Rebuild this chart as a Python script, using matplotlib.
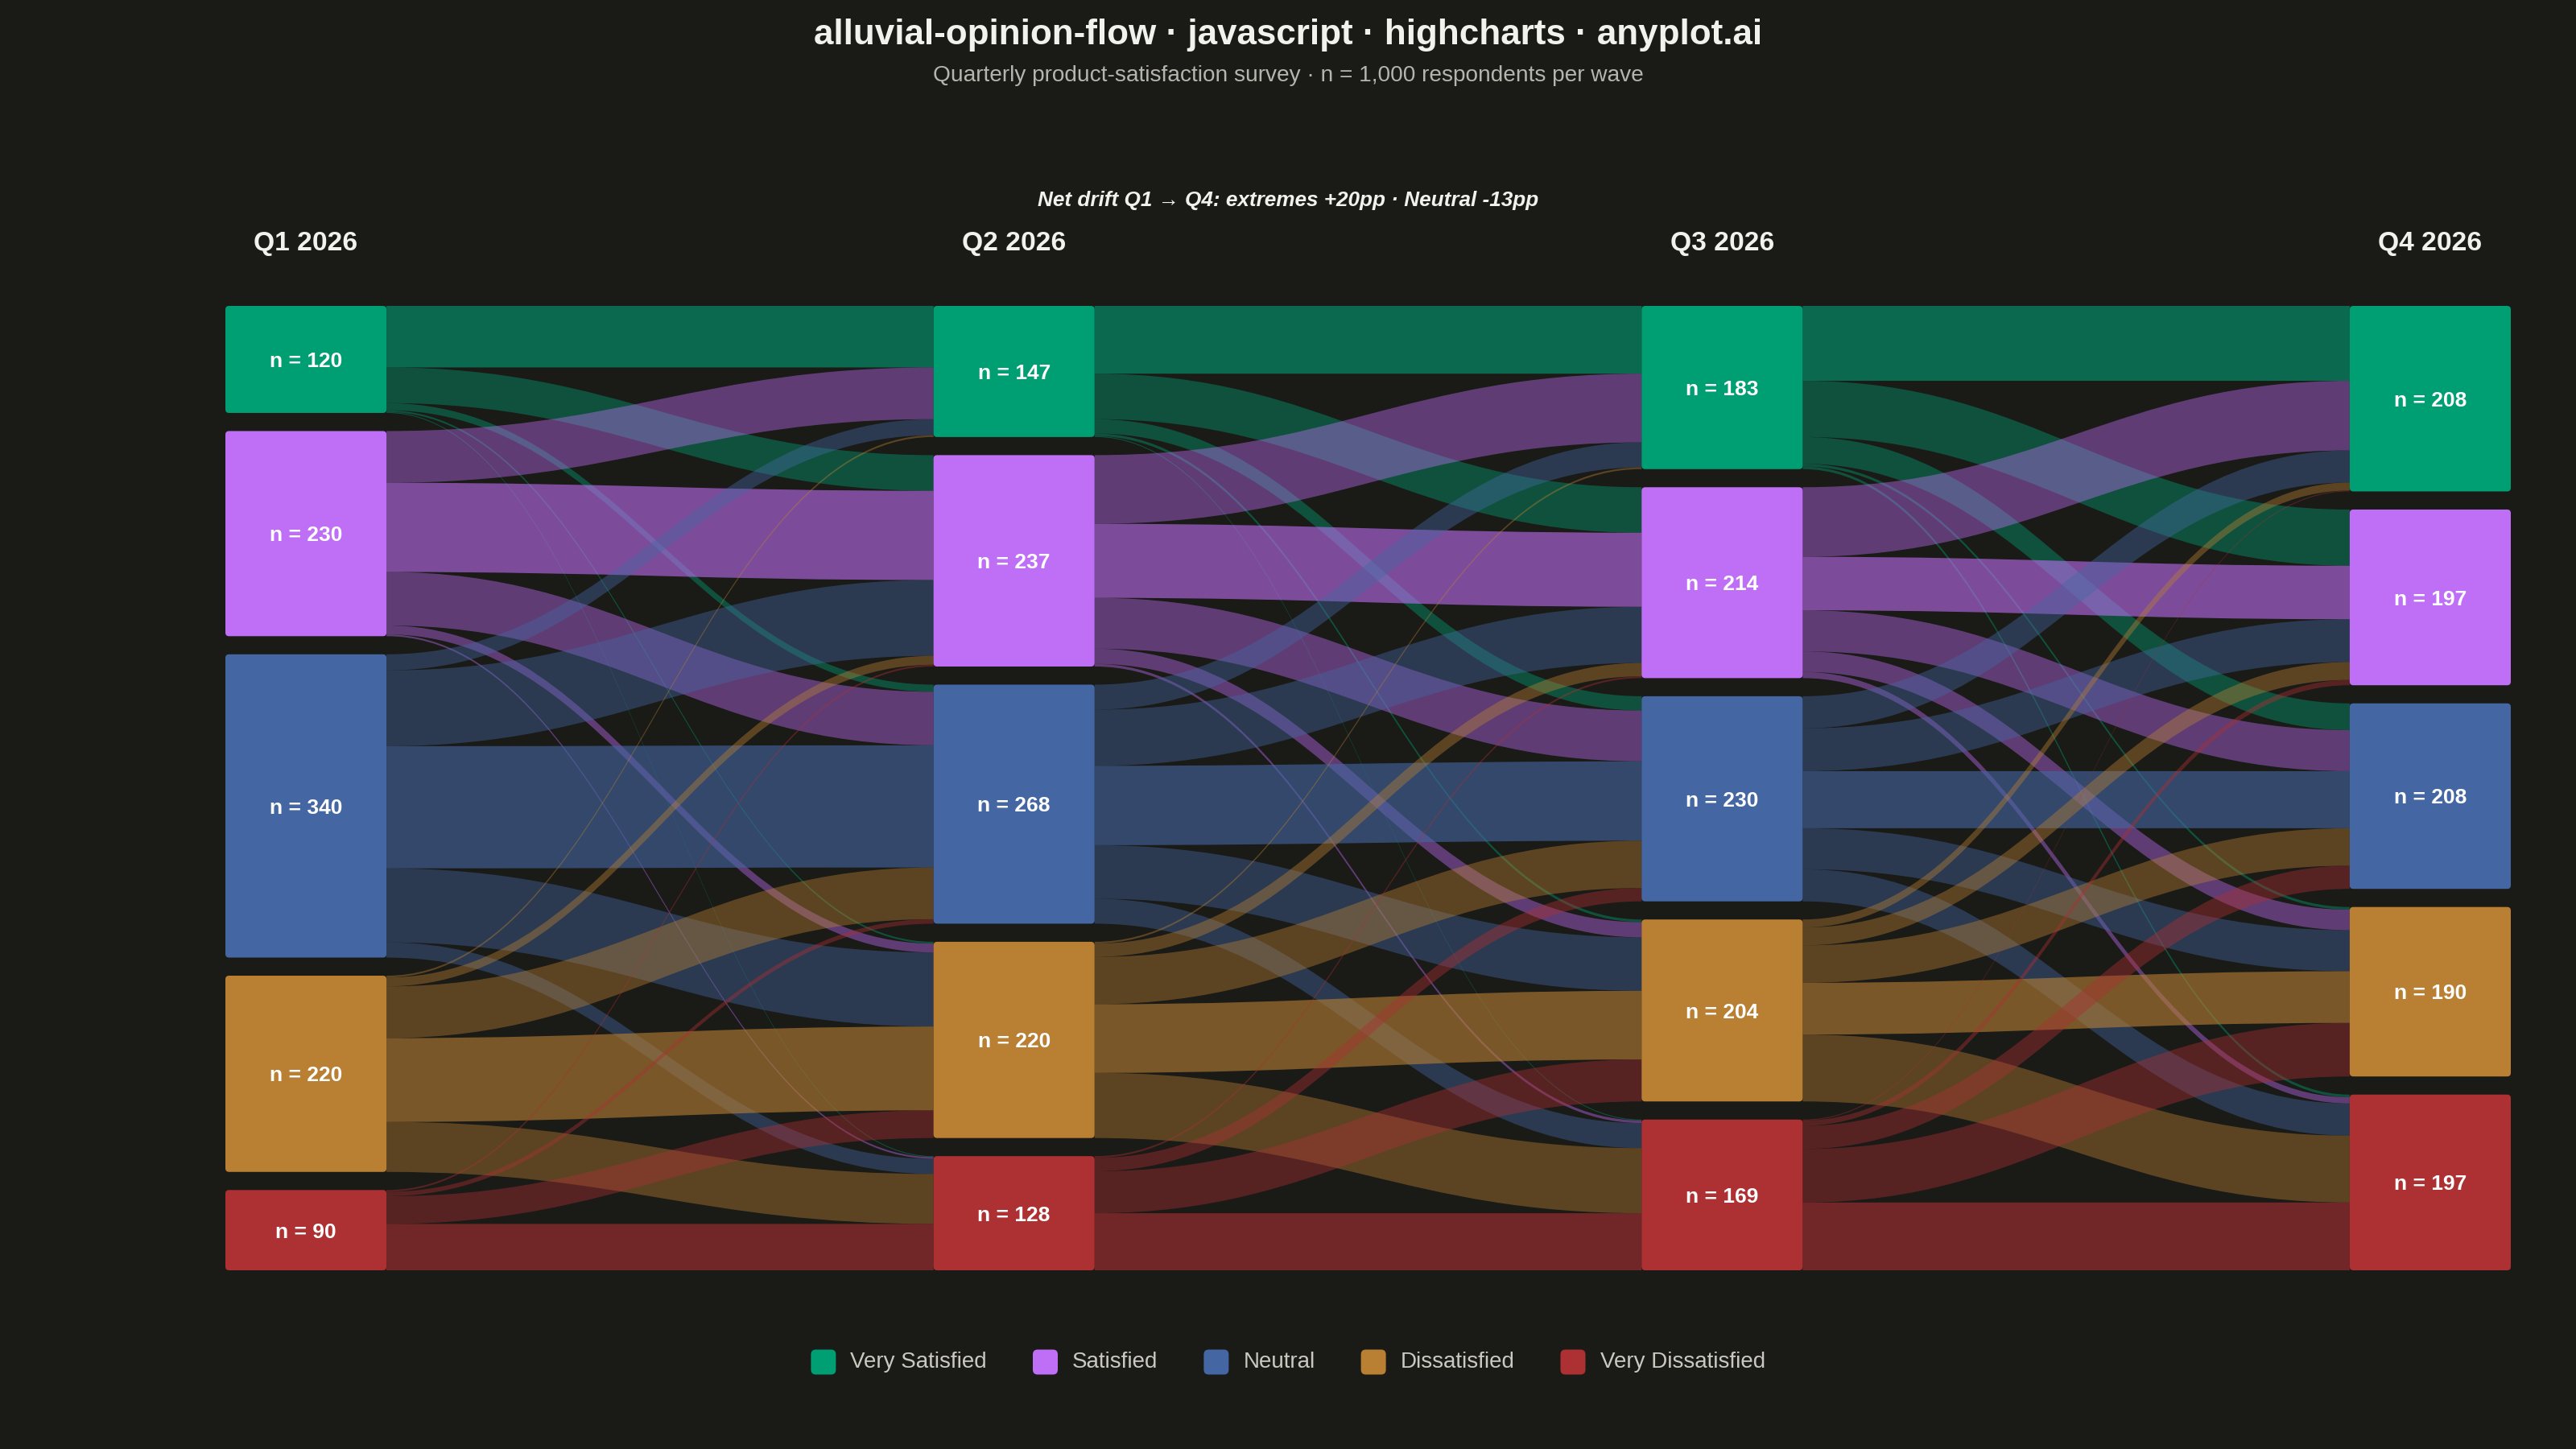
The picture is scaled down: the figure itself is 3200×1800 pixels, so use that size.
import matplotlib
matplotlib.use("Agg")
import matplotlib.pyplot as plt
from matplotlib.path import Path
from matplotlib.patches import PathPatch, FancyBboxPatch
from matplotlib.transforms import blended_transform_factory

plt.rcParams['font.family'] = ['Liberation Sans', 'DejaVu Sans']

# ---------------- data ----------------
quarters = ["Q1 2026", "Q2 2026", "Q3 2026", "Q4 2026"]
categories = ["Very Satisfied", "Satisfied", "Neutral", "Dissatisfied", "Very Dissatisfied"]
colors = ["#009E73", "#BF6FF5", "#4467A3", "#B98034", "#AD3033"]

# rows = source category (earlier quarter), cols = target category (next quarter)
flows_q1_q2 = [
    [69, 40, 8, 2, 1],
    [58, 100, 60, 10, 2],
    [18, 85, 137, 83, 17],
    [2, 10, 58, 94, 56],
    [0, 2, 5, 31, 52],
]
flows_q2_q3 = [
    [76, 51, 16, 3, 1],
    [77, 83, 57, 17, 3],
    [28, 63, 89, 60, 28],
    [2, 15, 53, 77, 73],
    [0, 2, 15, 47, 64],
]
flows_q3_q4 = [
    [84, 63, 30, 3, 3],
    [78, 60, 46, 23, 7],
    [36, 48, 64, 46, 36],
    [9, 20, 42, 58, 75],
    [1, 6, 26, 60, 76],
]
transitions = [flows_q1_q2, flows_q2_q3, flows_q3_q4]

title = "alluvial-opinion-flow · javascript · highcharts · anyplot.ai"
subtitle = "Quarterly product-satisfaction survey · n = 1,000 respondents per wave"
annotation = "Net drift Q1 → Q4: extremes +20pp · Neutral -13pp"

# ---------------- style ----------------
BG = "#1A1A17"
TXT = "#F2F2EC"
SUB = "#B5B5AD"
LEG = "#C9C9C0"
NODE_PAD = 20.3
NODE_W = 0.2275
CURVE = 0.43
STAY_ALPHA = 0.60
MOVE_ALPHA = 0.42

W, H = 3200, 1800
fig = plt.figure(figsize=(16, 9), dpi=200, facecolor=BG)

# plot area
L, R, T, B = 280, 3119, 380, 1578
ax = fig.add_axes([L / W, 1 - B / H, (R - L) / W, (B - T) / H])
ax.set_facecolor(BG)
ncat = len(categories)
ncol = len(quarters)
total = 1000 + (ncat - 1) * NODE_PAD
ax.set_xlim(0, ncol - 1 + NODE_W)
ax.set_ylim(total, 0)
ax.axis('off')

# node values
node_vals = []
for c in range(ncol):
    if c < ncol - 1:
        vals = [sum(r) for r in transitions[c]]
    else:
        m = transitions[-1]
        vals = [sum(m[i][j] for i in range(ncat)) for j in range(ncat)]
    node_vals.append(vals)

node_tops = []
for c in range(ncol):
    tops = []
    y = 0.0
    for v in node_vals[c]:
        tops.append(y)
        y += v + NODE_PAD
    node_tops.append(tops)

# links
for t, m in enumerate(transitions):
    out_off = list(node_tops[t])
    in_off = list(node_tops[t + 1])
    x0 = t + NODE_W
    x1 = t + 1
    cv = CURVE * (x1 - x0)
    for i in range(ncat):
        for j in range(ncat):
            v = m[i][j]
            if v <= 0:
                continue
            ys, yt = out_off[i], in_off[j]
            verts = [(x0, ys), (x0 + cv, ys), (x1 - cv, yt), (x1, yt),
                     (x1, yt + v), (x1 - cv, yt + v), (x0 + cv, ys + v), (x0, ys + v),
                     (x0, ys)]
            codes = [Path.MOVETO, Path.CURVE4, Path.CURVE4, Path.CURVE4,
                     Path.LINETO, Path.CURVE4, Path.CURVE4, Path.CURVE4,
                     Path.CLOSEPOLY]
            a = STAY_ALPHA if i == j else MOVE_ALPHA
            ax.add_patch(PathPatch(Path(verts, codes), facecolor=colors[i],
                                   alpha=a, edgecolor='none', lw=0, zorder=1))
            out_off[i] += v
            in_off[j] += v

# nodes
px_x = (R - L) / (ncol - 1 + NODE_W)
px_y = (B - T) / total
rs = 4.5 / px_x
for c in range(ncol):
    for k in range(ncat):
        v = node_vals[c][k]
        top = node_tops[c][k]
        ax.add_patch(FancyBboxPatch((c, top), NODE_W, v,
                                    boxstyle=f"round,pad=0,rounding_size={rs}",
                                    mutation_aspect=px_x / px_y,
                                    facecolor=colors[k], edgecolor='none', zorder=3))
        ax.text(c + NODE_W / 2, top + v / 2, f"n = {v}", ha='center', va='center_baseline',
                color='white', fontsize=9.5, fontweight='bold', zorder=4)

# column headers
btr = blended_transform_factory(ax.transData, fig.transFigure)
for c, q in enumerate(quarters):
    ax.text(c + NODE_W / 2, 1 - 302 / H, q, transform=btr, ha='center', va='center',
            color=TXT, fontsize=12.1, fontweight='bold')

# titles
fig.text(0.5, 1 - 43 / H, title, ha='center', va='center', color=TXT,
         fontsize=15.85, fontweight='bold')
fig.text(0.5, 1 - 94 / H, subtitle, ha='center', va='center', color=SUB, fontsize=10.1)
fig.text(0.5, 1 - 249 / H, annotation, ha='center', va='center', color=TXT,
         fontsize=9.4, fontweight='bold', fontstyle='italic')

# legend (manual, centred)
lax = fig.add_axes([0, 0, 1, 1], facecolor='none')
lax.set_xlim(0, W)
lax.set_ylim(H, 0)
lax.axis('off')
renderer = fig.canvas.get_renderer()
sq = 31
pad = 18
gap = 57
ly = 1692
texts = []
widths = []
for name in categories:
    tt = lax.text(0, ly, name, ha='left', va='center', color=LEG, fontsize=10)
    texts.append(tt)
    widths.append(tt.get_window_extent(renderer).width)
total_w = sum(sq + pad + w for w in widths) + gap * (ncat - 1)
x = W / 2 - total_w / 2
for k, name in enumerate(categories):
    lax.add_patch(FancyBboxPatch((x, ly - sq / 2), sq, sq,
                                 boxstyle="round,pad=0,rounding_size=6",
                                 facecolor=colors[k], edgecolor='none'))
    texts[k].set_x(x + sq + pad)
    x += sq + pad + widths[k] + gap

fig.savefig("out.png", dpi=200, facecolor=BG)
